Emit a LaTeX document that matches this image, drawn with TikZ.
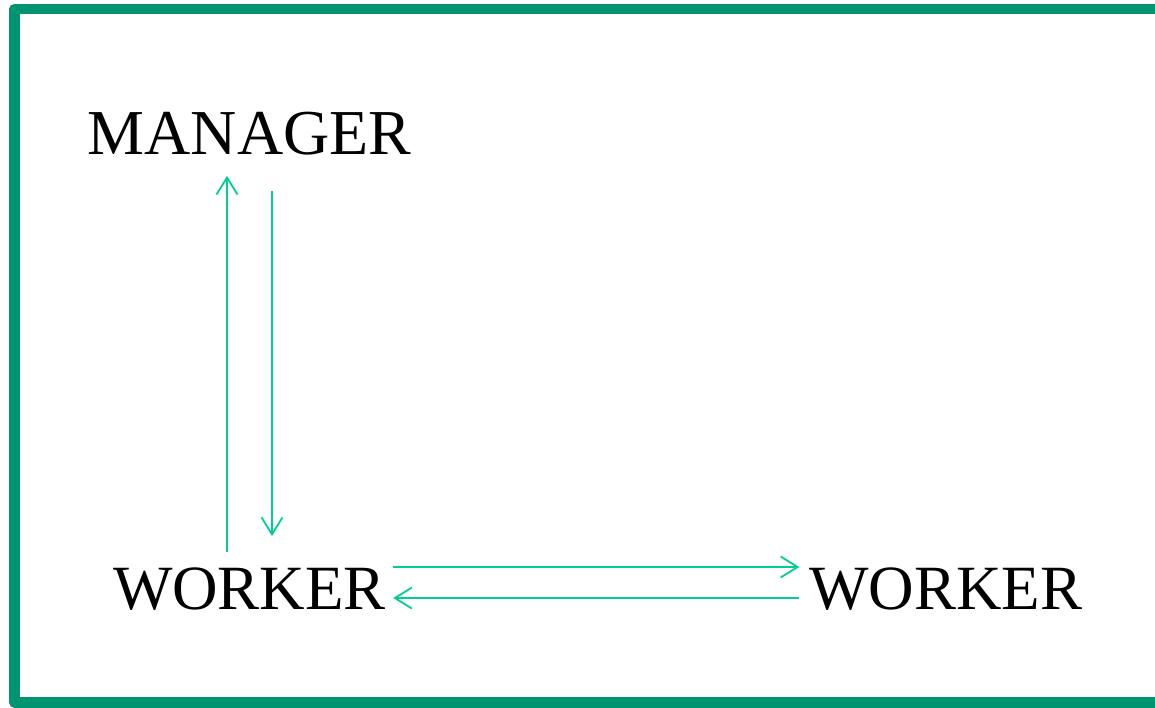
\documentclass[tikz,border=0pt]{standalone}
\usepackage{fontspec}
\setmainfont{Liberation Serif}
\usetikzlibrary{arrows.meta}
\definecolor{framegreen}{RGB}{0,148,112}
\definecolor{arrowgreen}{RGB}{0,206,150}
\tikzset{
  lbl/.style={inner sep=0pt, anchor=base, font=\fontsize{63}{70}\selectfont},
  conn/.style={draw=arrowgreen, line width=1.8pt, -{Straight Barb[length=17pt,width=21pt,line width=1.8pt]}},
  frame/.style={draw=framegreen, line width=10.5pt, line join=round}
}
\begin{document}
\begin{tikzpicture}[x=1pt,y=-1pt]
\useasboundingbox (0,0) rectangle (1155,707);
\draw[frame] (14.5,9) rectangle (1180,702.5);
\node[lbl, font=\fontsize{64}{70}\selectfont] (manager) at (249.5,154) {MANAGER};
\node[lbl] (w1) at (249.5,609) {WORKER};
\node[lbl] (w2) at (946,609) {WORKER};
% vertical arrows
\draw[conn] ([xshift=-22.5pt,yshift=15pt]w1.north) -- ([xshift=-22.5pt,yshift=-21pt]manager.south);
\draw[conn] ([xshift=22.5pt,yshift=-36pt]manager.south) -- ([xshift=22.5pt,yshift=31pt]w1.north);
% horizontal arrows
\draw[conn] ([xshift=7pt,yshift=42pt]w1.base east) -- ([xshift=-10pt,yshift=42pt]w2.base west);
\draw[conn] ([xshift=-10pt,yshift=11pt]w2.base west) -- ([xshift=7pt,yshift=11pt]w1.base east);
\end{tikzpicture}
\end{document}
